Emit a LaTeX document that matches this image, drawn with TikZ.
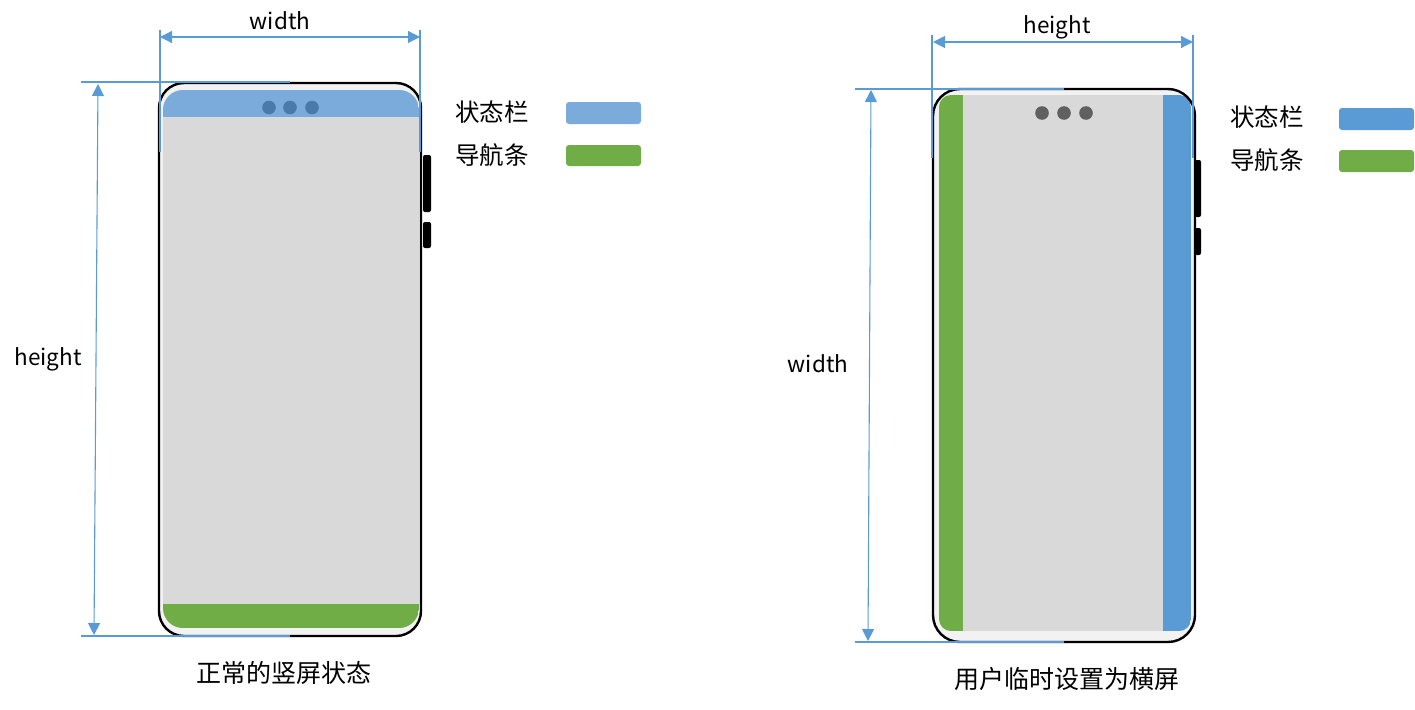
\documentclass[tikz,border=0pt]{standalone}
\usepackage{fontspec}
\setmainfont{Noto Sans CJK SC}
\usetikzlibrary{arrows.meta}
\definecolor{dimc}{HTML}{5B9BD5}
\definecolor{sbarL}{HTML}{7AABDB}
\definecolor{sbarR}{HTML}{5B9BD5}
\definecolor{navc}{HTML}{70AD47}
\definecolor{scrc}{HTML}{D9D9D9}
\definecolor{bezc}{HTML}{F2F2F2}
\definecolor{dotL}{HTML}{4A7AAA}
\definecolor{dotR}{HTML}{606060}
\tikzset{
  dimline/.style={draw=dimc, line width=1.1pt},
  dimarrow/.style={draw=dimc, line width=1.1pt, {Triangle[length=12pt,width=12pt]}-{Triangle[length=12pt,width=12pt]}},
  outline/.style={draw=black, line width=2.4pt},
  btn/.style={fill=black, rounded corners=2pt},
  lbl/.style={font=\fontsize{22.5}{26}\selectfont, inner sep=0pt},
  leglbl/.style={font=\fontsize{24.5}{28}\selectfont, inner sep=0pt},
  captext/.style={font=\fontsize{25}{29}\selectfont, inner sep=0pt},
  legbox/.style={rounded corners=3pt}
}
\begin{document}
\begin{tikzpicture}[x=1pt,y=-1pt]
\useasboundingbox (0,0) rectangle (1415,709);

% ---------- left phone ----------
\fill[bezc, rounded corners=25pt] (159,83) rectangle (421,636);
\begin{scope}
  \clip[rounded corners=20pt] (163,90) rectangle (419,628);
  \fill[scrc] (163,90) rectangle (419,628);
  \fill[sbarL] (163,90) rectangle (419,117);
  \fill[navc] (163,604) rectangle (419,628);
\end{scope}
\foreach \x in {269,290,312} \fill[dotL] (\x,107.5) circle (6.8);
\draw[outline, rounded corners=25pt] (159,83) rectangle (421,636);
\fill[btn] (423,155) rectangle (431,212);
\fill[btn] (423,222) rectangle (431,248);

% left dimensions
\coordinate (lw1) at (160,37); \coordinate (lw2) at (420,37);
\coordinate (le1a) at (160,30); \coordinate (le1b) at (160,152);
\coordinate (le2a) at (420,30); \coordinate (le2b) at (420,152);
\coordinate (lh1) at (98,84); \coordinate (lh2) at (94,635);
\coordinate (lt1) at (81,82); \coordinate (lt2) at (290,82);
\coordinate (lb1) at (81,636); \coordinate (lb2) at (290,636);
\draw[dimline] (le1a) -- (le1b);
\draw[dimline] (le2a) -- (le2b);
\draw[dimline] (lt1) -- (lt2);
\draw[dimline] (lb1) -- (lb2);
\draw[dimarrow] (lw1) -- (lw2);
\draw[dimarrow] (lh1) -- (lh2);
\node[lbl] (lwl) at (280,21) {width};
\node[lbl] (lhl) at (48,359) {height};

% left legend
\node[leglbl, anchor=west] (lleg1) at (455,112) {状态栏};
\node[leglbl, anchor=west] (lleg2) at (455,155) {导航条};
\fill[sbarL, legbox] (566,102) rectangle (641,124);
\fill[navc, legbox] (566,145) rectangle (641,166);

\node[captext] (lcap) at (284,673) {正常的竖屏状态};

% ---------- right phone ----------
\fill[bezc, rounded corners=27pt] (933,89) rectangle (1195,642);
\begin{scope}
  \clip[rounded corners=12pt] (939,95) rectangle (1191,631);
  \fill[scrc] (939,95) rectangle (1191,631);
  \fill[navc] (939,95) rectangle (963,631);
  \fill[sbarR] (1163,95) rectangle (1191,631);
\end{scope}
\foreach \x in {1042,1064,1086} \fill[dotR] (\x,113) circle (6.8);
\draw[outline, rounded corners=27pt] (933,89) rectangle (1195,642);
\fill[btn] (1195,160) rectangle (1201,217);
\fill[btn] (1195,228) rectangle (1201,255);

% right dimensions
\coordinate (rw1) at (933,42); \coordinate (rw2) at (1193,42);
\coordinate (re1a) at (932,35); \coordinate (re1b) at (932,158);
\coordinate (re2a) at (1193,35); \coordinate (re2b) at (1193,158);
\coordinate (rh1) at (871,90); \coordinate (rh2) at (868,641);
\coordinate (rt1) at (855,89); \coordinate (rt2) at (1064,89);
\coordinate (rb1) at (855,642); \coordinate (rb2) at (1064,642);
\draw[dimline] (re1a) -- (re1b);
\draw[dimline] (re2a) -- (re2b);
\draw[dimline] (rt1) -- (rt2);
\draw[dimline] (rb1) -- (rb2);
\draw[dimarrow] (rw1) -- (rw2);
\draw[dimarrow] (rh1) -- (rh2);
\node[lbl] (rwl) at (1057,27) {height};
\node[lbl] (rhl) at (818,364) {width};

% right legend
\node[leglbl, anchor=west] (rleg1) at (1230,117) {状态栏};
\node[leglbl, anchor=west] (rleg2) at (1230,160) {导航条};
\fill[sbarR, legbox] (1339,108) rectangle (1414,130);
\fill[navc, legbox] (1339,150) rectangle (1414,172);

\node[captext] (rcap) at (1067,679) {用户临时设置为横屏};
\end{tikzpicture}
\end{document}
